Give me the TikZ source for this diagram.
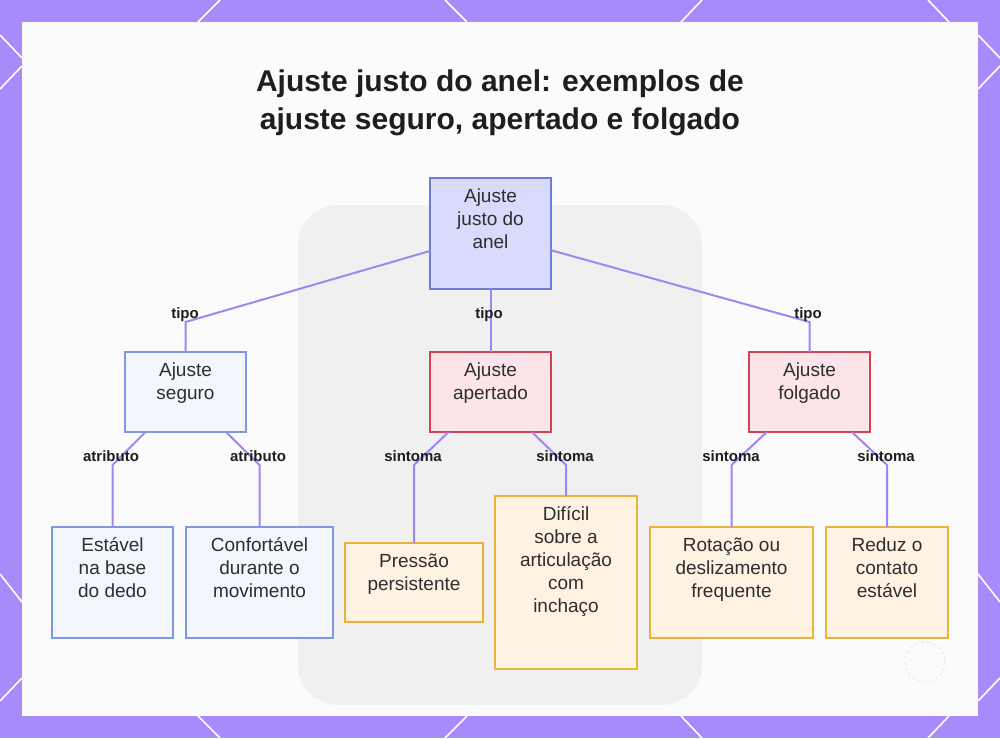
\documentclass[tikz,border=0pt]{standalone}
\usepackage{fontspec}
\setmainfont{Liberation Sans}
\definecolor{bgpurple}{HTML}{A78BFA}
\definecolor{panel}{HTML}{FBFBFB}
\definecolor{conn}{HTML}{A285EE}
\definecolor{rootfill}{HTML}{D8DBFB}
\definecolor{rootdraw}{HTML}{6D7CD8}
\definecolor{bluefill}{HTML}{F4F6FE}
\definecolor{bluedraw}{HTML}{7F98E2}
\definecolor{redfill}{HTML}{FCE4E8}
\definecolor{reddraw}{HTML}{CF4257}
\definecolor{orfill}{HTML}{FEF3E2}
\definecolor{ordraw}{HTML}{E8B23D}
\definecolor{txt}{HTML}{2E2E2E}
\definecolor{lbltxt}{HTML}{1E1E1E}
\newcommand\bxt[3]{\parbox[c][#2][t]{#1}{\centering\fontsize{19}{23}\selectfont\rule{0pt}{24.5pt}#3\par}}
\begin{document}
\begin{tikzpicture}[x=1pt,y=-1pt,
  boxbase/.style={draw, line width=1.5pt, inner sep=0pt, outer sep=0pt, text=txt},
  rootbox/.style={boxbase, fill=rootfill, draw=rootdraw},
  bluebox/.style={boxbase, fill=bluefill, draw=bluedraw},
  redbox/.style={boxbase, fill=redfill, draw=reddraw},
  orbox/.style={boxbase, fill=orfill, draw=ordraw},
  connline/.style={draw=conn, line width=2pt},
  lbl/.style={font=\fontsize{15}{18}\selectfont\bfseries, text=lbltxt, inner sep=0pt, anchor=base},
  deco/.style={white, line width=1.6pt}]
\useasboundingbox (0,0) rectangle (1000,738);
% frame
\fill[bgpurple] (0,0) rectangle (1000,738);
\draw[deco] (220,0) -- (198,22);
\draw[deco] (445,0) -- (467,22);
\draw[deco] (702,0) -- (681,22);
\draw[deco] (928,0) -- (949,22);
\draw[deco] (198,716) -- (220,738);
\draw[deco] (467,716) -- (445,738);
\draw[deco] (681,716) -- (702,738);
\draw[deco] (949,716) -- (928,738);
\draw[deco] (0,35) -- (22,58);
\draw[deco] (22,66) -- (0,89);
\draw[deco] (0,574) -- (22,602);
\draw[deco] (22,678) -- (0,701);
\draw[deco] (978,35) -- (1000,58);
\draw[deco] (1000,66) -- (978,89);
\draw[deco] (978,574) -- (1000,602);
\draw[deco] (1000,678) -- (978,701);
\fill[panel] (22,22) rectangle (978,716);
% faint background
\fill[black, opacity=0.045, rounded corners=40pt] (298,205) rectangle (702,705);
\draw[white, line width=0.8pt, dashed] (925,662) circle (43);
\draw[gray!25, line width=0.6pt, dashed] (925,662) circle (20);
% title
\node[font=\fontsize{30}{38}\selectfont\bfseries, text=lbltxt, align=center, anchor=base] (title) at (500,130) {Ajuste justo do anel: exemplos de\\ajuste seguro, apertado e folgado};
% nodes
\node[rootbox] (root) at (490.5,233.5) {\bxt{121pt}{111pt}{Ajuste\\justo do\\anel}};
\node[bluebox] (seguro) at (185.5,392) {\bxt{121pt}{80pt}{Ajuste\\seguro}};
\node[redbox] (apertado) at (490.5,392) {\bxt{121pt}{80pt}{Ajuste\\apertado}};
\node[redbox] (folgado) at (809.5,392) {\bxt{121pt}{80pt}{Ajuste\\folgado}};
\node[bluebox] (estavel) at (112.5,582.5) {\bxt{121pt}{111pt}{Estável\\na base\\do dedo}};
\node[bluebox] (confort) at (259.5,582.5) {\bxt{147pt}{111pt}{Confortável\\durante o\\movimento}};
\node[orbox] (pressao) at (414,582.5) {\bxt{138pt}{79pt}{Pressão\\persistente}};
\node[orbox] (dificil) at (566,582.5) {\bxt{142pt}{173pt}{Difícil\\sobre a\\articulação\\com\\inchaço}};
\node[orbox] (rotacao) at (731.5,582.5) {\bxt{163pt}{111pt}{Rotação ou\\deslizamento\\frequente}};
\node[orbox] (reduz) at (887,582.5) {\bxt{122pt}{111pt}{Reduz o\\contato\\estável}};
% bends
\coordinate (bseg) at (185.5,322);
\coordinate (bfol) at (809.5,322);
\coordinate (best) at (112.5,465);
\coordinate (bcon) at (259.5,465);
\coordinate (bpre) at (414,465);
\coordinate (bdif) at (566,465);
\coordinate (brot) at (731.5,465);
\coordinate (bred) at (887,465);
% connectors
\draw[connline] (root) -- (bseg) -- (seguro);
\draw[connline] (root) -- (apertado);
\draw[connline] (root) -- (bfol) -- (folgado);
\draw[connline] (seguro) -- (best) -- (estavel);
\draw[connline] (seguro) -- (bcon) -- (confort);
\draw[connline] (apertado) -- (bpre) -- (pressao);
\draw[connline] (apertado) -- (bdif) -- (dificil);
\draw[connline] (folgado) -- (brot) -- (rotacao);
\draw[connline] (folgado) -- (bred) -- (reduz);
% labels
\node[lbl] (l1) at (185,318) {tipo};
\node[lbl] (l2) at (489,318) {tipo};
\node[lbl] (l3) at (808,318) {tipo};
\node[lbl] (l4) at (111,461) {atributo};
\node[lbl] (l5) at (258,461) {atributo};
\node[lbl] (l6) at (413,461) {sintoma};
\node[lbl] (l7) at (565,461) {sintoma};
\node[lbl] (l8) at (731,461) {sintoma};
\node[lbl] (l9) at (886,461) {sintoma};
\end{tikzpicture}
\end{document}
